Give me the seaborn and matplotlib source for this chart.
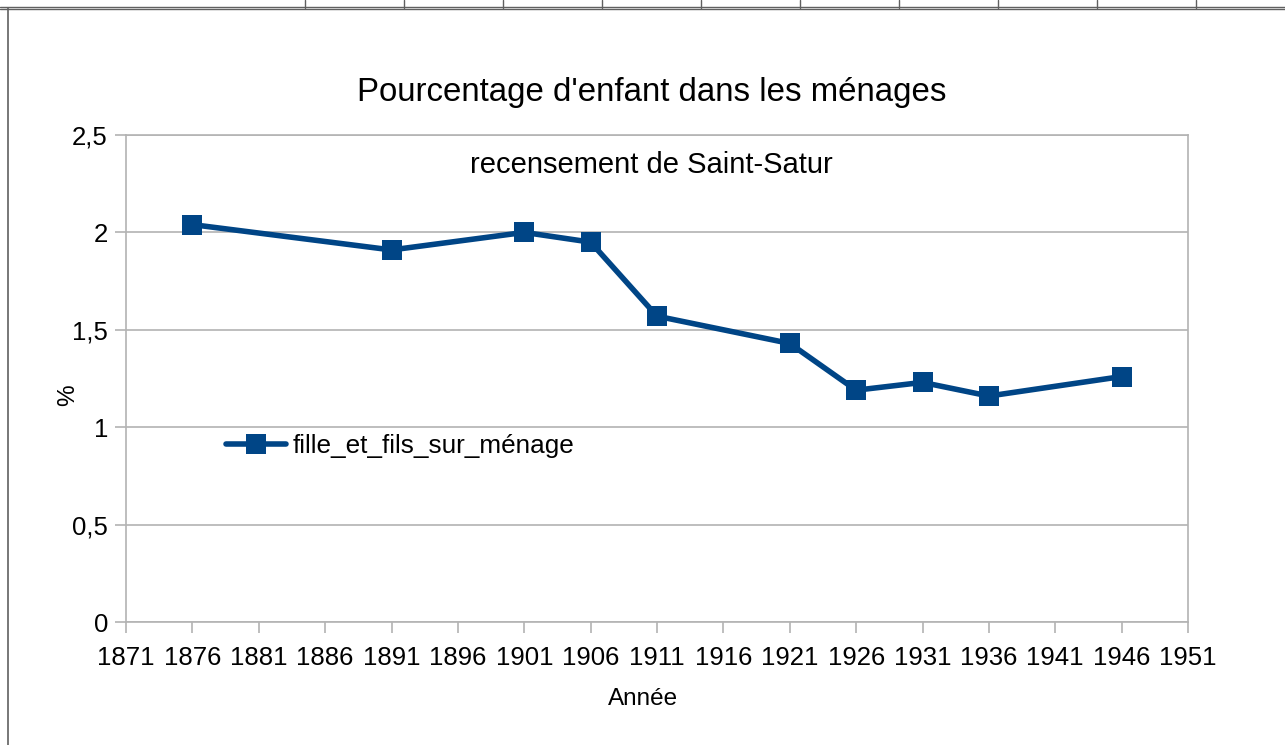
import matplotlib
matplotlib.use('Agg')
import matplotlib.pyplot as plt
from matplotlib.lines import Line2D
import pandas as pd
import seaborn as sns

# recensements de Saint-Satur
ANNEES = [1876, 1891, 1901, 1906, 1911, 1921, 1926, 1931, 1936, 1946]
ENFANTS = [2.04, 1.91, 2.00, 1.95, 1.57, 1.43, 1.19, 1.23, 1.16, 1.26]
SERIE = 'fille_et_fils_sur_ménage'

X_TICKS = list(range(1871, 1952, 5))
Y_TICKS = [0, 0.5, 1, 1.5, 2, 2.5]
Y_LABELS = ['0', '0,5', '1', '1,5', '2', '2,5']

BLEU = '#004586'
GRIS = '#b3b3b3'

sns.set_style('white')
plt.rcParams['font.family'] = ['Liberation Sans', 'DejaVu Sans']
plt.rcParams['text.color'] = 'black'
plt.rcParams['axes.labelcolor'] = 'black'
plt.rcParams['xtick.color'] = 'black'
plt.rcParams['ytick.color'] = 'black'

df = pd.DataFrame({'annee': ANNEES, 'valeur': ENFANTS, 'serie': SERIE})

fig = plt.figure(figsize=(12.85, 7.45), dpi=100)
ax = fig.add_axes([126 / 1285, 1 - 622 / 745, (1188 - 126) / 1285, (622 - 135) / 745])

sns.lineplot(data=df, x='annee', y='valeur', ax=ax, color=BLEU,
             linewidth=4, marker='s', markersize=14.5, markeredgewidth=0,
             legend=False)

ax.set_xlim(1871, 1951)
ax.set_ylim(0, 2.5)
ax.set_xticks(X_TICKS)
ax.set_yticks(Y_TICKS)
ax.set_yticklabels(Y_LABELS)
ax.yaxis.grid(True, color=GRIS, linewidth=1.2)
ax.xaxis.grid(False)
for s in ax.spines.values():
    s.set_color(GRIS)
    s.set_linewidth(1.2)
ax.tick_params(axis='both', bottom=True, left=True, length=8, width=1.2,
               color=GRIS, labelcolor='black', labelsize=18.5, direction='out')
ax.tick_params(axis='x', pad=9)
ax.tick_params(axis='y', pad=5)

ax.set_xlabel('Année', fontsize=17.5)
ax.set_ylabel('%', fontsize=17.5)
ax.xaxis.set_label_coords((643 - 126) / 1062, (622 - 699) / 487)
ax.yaxis.set_label_coords((68 - 126) / 1062, (622 - 395) / 487)
ax.xaxis.label.set_va('center')
ax.yaxis.label.set_va('center')

ax.text((651 - 126) / 1062, (622 - 165) / 487, 'recensement de Saint-Satur',
        transform=ax.transAxes, ha='center', va='center', fontsize=21)
fig.text(652 / 1285, 1 - 93 / 745, "Pourcentage d'enfant dans les ménages",
         ha='center', va='center', fontsize=23.8)

handle = Line2D([], [], color=BLEU, linewidth=4, marker='s',
                markersize=14.5, markeredgewidth=0)
ax.legend([handle], [SERIE], loc='center left', bbox_to_anchor=(0.0944, 0.361),
          frameon=False, fontsize=18.8, handlelength=2.3, handletextpad=0.25,
          borderpad=0, borderaxespad=0)

# bordures de la feuille de calcul
fig.add_artist(Line2D([0, 1], [1 - 7 / 745, 1 - 7 / 745], color='#606060', linewidth=1.0))
fig.add_artist(Line2D([0, 1], [1 - 9 / 745, 1 - 9 / 745], color='#606060', linewidth=1.0))
fig.add_artist(Line2D([8 / 1285, 8 / 1285], [0, 1 - 8 / 745], color='#606060', linewidth=1.2))
for xc in range(305, 1285, 99):
    fig.add_artist(Line2D([xc / 1285, xc / 1285], [1 - 8 / 745, 1], color='#606060', linewidth=1.0))

fig.savefig('out.png', dpi=100)
